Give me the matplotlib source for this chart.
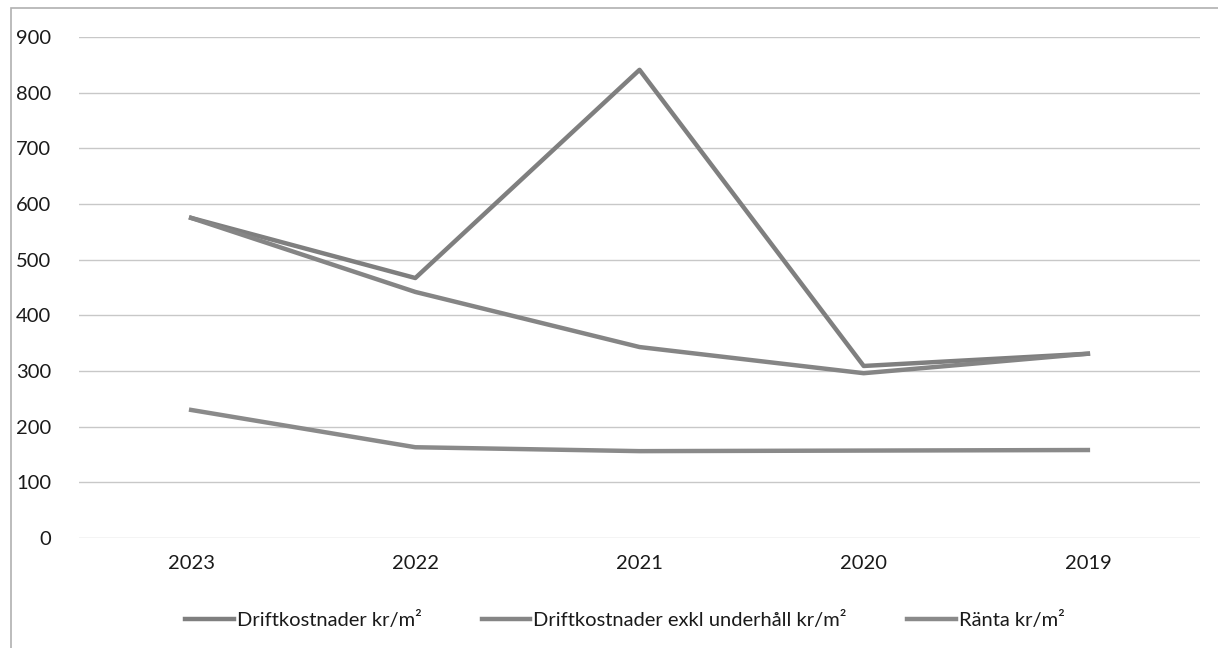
import matplotlib
matplotlib.use("Agg")
from matplotlib import pyplot as plt
from matplotlib.patches import Rectangle

plt.rcParams['font.family'] = ['Lato', 'DejaVu Sans']

years = ['2023', '2022', '2021', '2020', '2019']
drift = [575, 467, 841, 309, 331]
drift_exkl = [575, 442, 343, 296, 331]
ranta = [230, 163, 156, 157, 158]

labels = ['Driftkostnader kr/m²', 'Driftkostnader exkl underhåll kr/m²', 'Ränta kr/m²']
line_color = '#7f7f7f'

fig = plt.figure(figsize=(12.18, 6.48), dpi=100)
ax = fig.add_axes([0.0649, 0.1698, 0.9203, 0.7731])

# outer chart border (left and top edges visible)
fig.patches.append(Rectangle((11 / 1218, -0.05), 1.1, (648 - 8) / 648 + 0.05,
                             transform=fig.transFigure, fill=False,
                             edgecolor='#b0b0b0', linewidth=1.2))

x = range(len(years))
ax.plot(x, drift, color=line_color, lw=3.2, label=labels[0])
ax.plot(x, drift_exkl, color='#858585', lw=3.2, label=labels[1])
ax.plot(x, ranta, color='#8a8a8a', lw=3.2, label=labels[2])

ax.set_xlim(-0.5, len(years) - 0.5)
ax.set_ylim(0, 900)
ax.set_yticks(range(0, 1000, 100))
ax.set_xticks(list(x))
ax.set_xticklabels(years)
ax.yaxis.grid(True, color='#c8c8c8', lw=1.0)
ax.set_axisbelow(True)
for s in ax.spines.values():
    s.set_visible(False)
ax.tick_params(length=0, labelsize=14.5, colors='#1a1a1a')
ax.tick_params(axis='y', pad=20)
ax.tick_params(axis='x', pad=12)

leg = fig.legend(loc='center', ncol=3, frameon=False,
                 fontsize=14.5, handlelength=2.4, handletextpad=0.15, columnspacing=3.0)
leg.set_bbox_to_anchor((0.513, 1 - 620 / 648), transform=fig.transFigure)
for t in leg.get_texts():
    t.set_color('#1a1a1a')

fig.savefig('out.png', dpi=100)
